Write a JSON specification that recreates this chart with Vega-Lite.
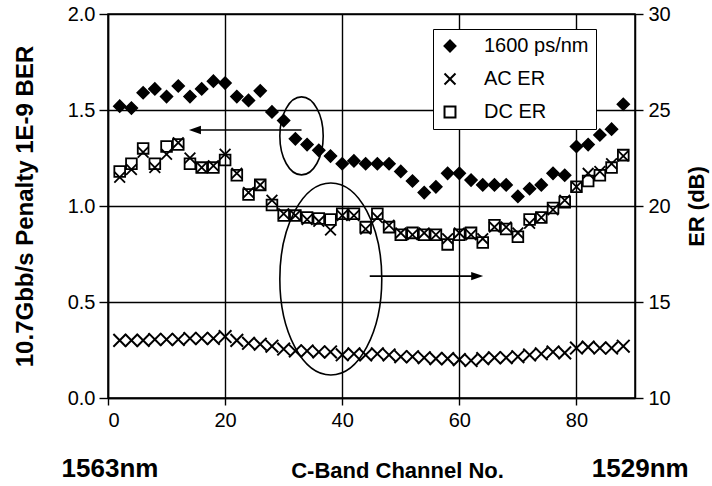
{
  "$schema": "https://vega.github.io/schema/vega-lite/v6.json",
  "width": 527,
  "height": 384,
  "autosize": {"type": "none"},
  "padding": {"left": 108, "top": 14, "right": 77, "bottom": 88},
  "background": "white",
  "datasets": {
    "penalty": [
      {"ch": 2, "series": "1600 ps/nm", "value": 1.52}, {"ch": 4, "series": "1600 ps/nm", "value": 1.51},
      {"ch": 6, "series": "1600 ps/nm", "value": 1.59}, {"ch": 8, "series": "1600 ps/nm", "value": 1.61},
      {"ch": 10, "series": "1600 ps/nm", "value": 1.57}, {"ch": 12, "series": "1600 ps/nm", "value": 1.625},
      {"ch": 14, "series": "1600 ps/nm", "value": 1.57}, {"ch": 16, "series": "1600 ps/nm", "value": 1.61},
      {"ch": 18, "series": "1600 ps/nm", "value": 1.65}, {"ch": 20, "series": "1600 ps/nm", "value": 1.64},
      {"ch": 22, "series": "1600 ps/nm", "value": 1.57}, {"ch": 24, "series": "1600 ps/nm", "value": 1.55},
      {"ch": 26, "series": "1600 ps/nm", "value": 1.60}, {"ch": 28, "series": "1600 ps/nm", "value": 1.49},
      {"ch": 30, "series": "1600 ps/nm", "value": 1.445}, {"ch": 32, "series": "1600 ps/nm", "value": 1.35},
      {"ch": 34, "series": "1600 ps/nm", "value": 1.32}, {"ch": 36, "series": "1600 ps/nm", "value": 1.29},
      {"ch": 38, "series": "1600 ps/nm", "value": 1.26}, {"ch": 40, "series": "1600 ps/nm", "value": 1.22},
      {"ch": 42, "series": "1600 ps/nm", "value": 1.235}, {"ch": 44, "series": "1600 ps/nm", "value": 1.22},
      {"ch": 46, "series": "1600 ps/nm", "value": 1.22}, {"ch": 48, "series": "1600 ps/nm", "value": 1.22},
      {"ch": 50, "series": "1600 ps/nm", "value": 1.18}, {"ch": 52, "series": "1600 ps/nm", "value": 1.13},
      {"ch": 54, "series": "1600 ps/nm", "value": 1.07}, {"ch": 56, "series": "1600 ps/nm", "value": 1.10},
      {"ch": 58, "series": "1600 ps/nm", "value": 1.17}, {"ch": 60, "series": "1600 ps/nm", "value": 1.17},
      {"ch": 62, "series": "1600 ps/nm", "value": 1.135}, {"ch": 64, "series": "1600 ps/nm", "value": 1.11},
      {"ch": 66, "series": "1600 ps/nm", "value": 1.11}, {"ch": 68, "series": "1600 ps/nm", "value": 1.11},
      {"ch": 70, "series": "1600 ps/nm", "value": 1.05}, {"ch": 72, "series": "1600 ps/nm", "value": 1.09},
      {"ch": 74, "series": "1600 ps/nm", "value": 1.11}, {"ch": 76, "series": "1600 ps/nm", "value": 1.17},
      {"ch": 78, "series": "1600 ps/nm", "value": 1.16}, {"ch": 80, "series": "1600 ps/nm", "value": 1.31},
      {"ch": 82, "series": "1600 ps/nm", "value": 1.32}, {"ch": 84, "series": "1600 ps/nm", "value": 1.37},
      {"ch": 86, "series": "1600 ps/nm", "value": 1.40}, {"ch": 88, "series": "1600 ps/nm", "value": 1.53},
      {"ch": 2, "series": "lower", "value": 0.30}, {"ch": 4, "series": "lower", "value": 0.30},
      {"ch": 6, "series": "lower", "value": 0.30}, {"ch": 8, "series": "lower", "value": 0.305},
      {"ch": 10, "series": "lower", "value": 0.305}, {"ch": 12, "series": "lower", "value": 0.305},
      {"ch": 14, "series": "lower", "value": 0.31}, {"ch": 16, "series": "lower", "value": 0.31},
      {"ch": 18, "series": "lower", "value": 0.31}, {"ch": 20, "series": "lower", "value": 0.32},
      {"ch": 22, "series": "lower", "value": 0.30}, {"ch": 24, "series": "lower", "value": 0.285},
      {"ch": 26, "series": "lower", "value": 0.28}, {"ch": 28, "series": "lower", "value": 0.27},
      {"ch": 30, "series": "lower", "value": 0.255}, {"ch": 32, "series": "lower", "value": 0.245},
      {"ch": 34, "series": "lower", "value": 0.245}, {"ch": 36, "series": "lower", "value": 0.24},
      {"ch": 38, "series": "lower", "value": 0.24}, {"ch": 40, "series": "lower", "value": 0.225},
      {"ch": 42, "series": "lower", "value": 0.23}, {"ch": 44, "series": "lower", "value": 0.224},
      {"ch": 46, "series": "lower", "value": 0.23}, {"ch": 48, "series": "lower", "value": 0.224},
      {"ch": 50, "series": "lower", "value": 0.215}, {"ch": 52, "series": "lower", "value": 0.215},
      {"ch": 54, "series": "lower", "value": 0.21}, {"ch": 56, "series": "lower", "value": 0.205},
      {"ch": 58, "series": "lower", "value": 0.205}, {"ch": 60, "series": "lower", "value": 0.20},
      {"ch": 62, "series": "lower", "value": 0.195}, {"ch": 64, "series": "lower", "value": 0.205},
      {"ch": 66, "series": "lower", "value": 0.21}, {"ch": 68, "series": "lower", "value": 0.21},
      {"ch": 70, "series": "lower", "value": 0.215}, {"ch": 72, "series": "lower", "value": 0.224},
      {"ch": 74, "series": "lower", "value": 0.23}, {"ch": 76, "series": "lower", "value": 0.24},
      {"ch": 78, "series": "lower", "value": 0.235}, {"ch": 80, "series": "lower", "value": 0.26},
      {"ch": 82, "series": "lower", "value": 0.265}, {"ch": 84, "series": "lower", "value": 0.26},
      {"ch": 86, "series": "lower", "value": 0.26}, {"ch": 88, "series": "lower", "value": 0.27}
    ],
    "er": [
      {"ch": 2, "series": "AC ER", "value": 21.5}, {"ch": 4, "series": "AC ER", "value": 21.9},
      {"ch": 6, "series": "AC ER", "value": 22.8}, {"ch": 8, "series": "AC ER", "value": 22.0},
      {"ch": 10, "series": "AC ER", "value": 22.7}, {"ch": 12, "series": "AC ER", "value": 23.3},
      {"ch": 14, "series": "AC ER", "value": 22.5}, {"ch": 16, "series": "AC ER", "value": 22.0},
      {"ch": 18, "series": "AC ER", "value": 22.1}, {"ch": 20, "series": "AC ER", "value": 22.7},
      {"ch": 22, "series": "AC ER", "value": 21.7}, {"ch": 24, "series": "AC ER", "value": 20.7},
      {"ch": 26, "series": "AC ER", "value": 21.1}, {"ch": 28, "series": "AC ER", "value": 20.3},
      {"ch": 30, "series": "AC ER", "value": 19.6}, {"ch": 32, "series": "AC ER", "value": 19.5},
      {"ch": 34, "series": "AC ER", "value": 19.3}, {"ch": 36, "series": "AC ER", "value": 19.2},
      {"ch": 38, "series": "AC ER", "value": 18.75}, {"ch": 40, "series": "AC ER", "value": 19.5},
      {"ch": 42, "series": "AC ER", "value": 19.5}, {"ch": 44, "series": "AC ER", "value": 18.8},
      {"ch": 46, "series": "AC ER", "value": 19.4}, {"ch": 48, "series": "AC ER", "value": 19.0},
      {"ch": 50, "series": "AC ER", "value": 18.6}, {"ch": 52, "series": "AC ER", "value": 18.5},
      {"ch": 54, "series": "AC ER", "value": 18.6}, {"ch": 56, "series": "AC ER", "value": 18.5},
      {"ch": 58, "series": "AC ER", "value": 18.3}, {"ch": 60, "series": "AC ER", "value": 18.6},
      {"ch": 62, "series": "AC ER", "value": 18.5}, {"ch": 64, "series": "AC ER", "value": 18.3},
      {"ch": 66, "series": "AC ER", "value": 18.9}, {"ch": 68, "series": "AC ER", "value": 18.9},
      {"ch": 70, "series": "AC ER", "value": 18.6}, {"ch": 72, "series": "AC ER", "value": 19.1},
      {"ch": 74, "series": "AC ER", "value": 19.4}, {"ch": 76, "series": "AC ER", "value": 19.8},
      {"ch": 78, "series": "AC ER", "value": 20.3}, {"ch": 80, "series": "AC ER", "value": 21.0},
      {"ch": 82, "series": "AC ER", "value": 21.7}, {"ch": 84, "series": "AC ER", "value": 21.8},
      {"ch": 86, "series": "AC ER", "value": 22.2}, {"ch": 88, "series": "AC ER", "value": 22.6},
      {"ch": 2, "series": "DC ER", "value": 21.8}, {"ch": 4, "series": "DC ER", "value": 22.2},
      {"ch": 6, "series": "DC ER", "value": 23.0}, {"ch": 8, "series": "DC ER", "value": 22.2},
      {"ch": 10, "series": "DC ER", "value": 23.1}, {"ch": 12, "series": "DC ER", "value": 23.2},
      {"ch": 14, "series": "DC ER", "value": 22.2}, {"ch": 16, "series": "DC ER", "value": 22.0},
      {"ch": 18, "series": "DC ER", "value": 22.0}, {"ch": 20, "series": "DC ER", "value": 22.4},
      {"ch": 22, "series": "DC ER", "value": 21.6}, {"ch": 24, "series": "DC ER", "value": 20.6},
      {"ch": 26, "series": "DC ER", "value": 21.1}, {"ch": 28, "series": "DC ER", "value": 20.05},
      {"ch": 30, "series": "DC ER", "value": 19.5}, {"ch": 32, "series": "DC ER", "value": 19.5},
      {"ch": 34, "series": "DC ER", "value": 19.4}, {"ch": 36, "series": "DC ER", "value": 19.35},
      {"ch": 38, "series": "DC ER", "value": 19.3}, {"ch": 40, "series": "DC ER", "value": 19.6},
      {"ch": 42, "series": "DC ER", "value": 19.6}, {"ch": 44, "series": "DC ER", "value": 18.9},
      {"ch": 46, "series": "DC ER", "value": 19.6}, {"ch": 48, "series": "DC ER", "value": 18.9},
      {"ch": 50, "series": "DC ER", "value": 18.5}, {"ch": 52, "series": "DC ER", "value": 18.6},
      {"ch": 54, "series": "DC ER", "value": 18.5}, {"ch": 56, "series": "DC ER", "value": 18.5},
      {"ch": 58, "series": "DC ER", "value": 18.0}, {"ch": 60, "series": "DC ER", "value": 18.5},
      {"ch": 62, "series": "DC ER", "value": 18.6}, {"ch": 64, "series": "DC ER", "value": 18.1},
      {"ch": 66, "series": "DC ER", "value": 19.0}, {"ch": 68, "series": "DC ER", "value": 18.8},
      {"ch": 70, "series": "DC ER", "value": 18.4}, {"ch": 72, "series": "DC ER", "value": 19.3},
      {"ch": 74, "series": "DC ER", "value": 19.4}, {"ch": 76, "series": "DC ER", "value": 19.9},
      {"ch": 78, "series": "DC ER", "value": 20.2}, {"ch": 80, "series": "DC ER", "value": 21.0},
      {"ch": 82, "series": "DC ER", "value": 21.3}, {"ch": 84, "series": "DC ER", "value": 21.6},
      {"ch": 86, "series": "DC ER", "value": 22.0}, {"ch": 88, "series": "DC ER", "value": 22.65}
    ],
    "notes": [
      {"kind": "ellipse1", "ch": 33.05, "value": 1.365},
      {"kind": "ellipse2", "ch": 38.05, "value": 0.62},
      {"kind": "arrowLeft", "ch": 14.5, "ch2": 33.05, "value": 1.396},
      {"kind": "arrowRight", "ch": 44.7, "ch2": 63.5, "value": 0.635},
      {"kind": "headLeft", "ch": 14.85, "value": 1.396},
      {"kind": "headRight", "ch": 63.05, "value": 0.635}
    ],
    "labels": [
      {"label": "1563nm", "ch": 0.34, "value": -0.411},
      {"label": "1529nm", "ch": 90.9, "value": -0.411}
    ]
  },
  "layer": [
    {
      "layer": [
        {
          "data": {"name": "penalty"},
          "transform": [{"filter": "datum.series === 'lower'"}],
          "mark": {"type": "point", "shape": "M-1,-1L1,1M-1,1L1,-1", "filled": false, "stroke": "black", "strokeWidth": 2, "size": 160, "opacity": 1},
          "encoding": {
            "x": {"field": "ch", "type": "quantitative", "scale": {"domain": [0, 90], "nice": false},
                  "axis": {"values": [0, 20, 40, 60, 80], "grid": true, "gridColor": "black", "gridWidth": 1.4, "tickSize": 7, "tickWidth": 1.4, "labelPadding": 5, "domainWidth": 1.5,
                           "title": "C-Band Channel No.", "titleX": 289, "titleY": 79, "titleBaseline": "alphabetic", "titleFontSize": 22}},
            "y": {"field": "value", "type": "quantitative", "scale": {"domain": [0, 2], "nice": false},
                  "axis": {"values": [0, 0.5, 1, 1.5, 2], "format": ".1f", "grid": true, "gridColor": "black", "gridWidth": 1.4, "tickSize": 9, "tickWidth": 1.4, "labelPadding": 4, "domainWidth": 1.5,
                           "title": "10.7Gbb/s Penalty 1E-9 BER", "titleFontSize": 24, "titleX": -83, "titleBaseline": "middle"}}
          }
        },
        {
          "data": {"name": "penalty"},
          "transform": [{"filter": "datum.series === '1600 ps/nm'"}],
          "mark": {"type": "point", "filled": false, "stroke": "black", "strokeWidth": 1.5, "size": 145, "opacity": 1},
          "encoding": {
            "x": {"field": "ch", "type": "quantitative", "title": "C-Band Channel No."},
            "y": {"field": "value", "type": "quantitative", "title": "10.7Gbb/s Penalty 1E-9 BER"},
            "shape": {"field": "series", "type": "nominal",
                      "scale": {"domain": ["1600 ps/nm", "AC ER", "DC ER"], "range": ["diamond", "M-1,-1L1,1M-1,1L1,-1", "square"]},
                      "legend": {"title": null, "orient": "none", "legendX": 325, "legendY": 15}},
            "fill": {"field": "series", "type": "nominal",
                     "scale": {"domain": ["1600 ps/nm", "AC ER", "DC ER"], "range": ["black", "transparent", "transparent"]},
                     "legend": {"title": null, "orient": "none", "legendX": 325, "legendY": 15}},
            "stroke": {"field": "series", "type": "nominal",
                       "scale": {"domain": ["1600 ps/nm", "AC ER", "DC ER"], "range": ["black", "black", "black"]},
                       "legend": {"title": null, "orient": "none", "legendX": 325, "legendY": 15}}
          }
        },
        {
          "data": {"name": "notes"},
          "transform": [{"filter": "datum.kind === 'ellipse1'"}],
          "mark": {"type": "point", "shape": "M0,-1C0.307,-1 0.556,-0.552 0.556,0C0.556,0.552 0.307,1 0,1C-0.307,1 -0.556,0.552 -0.556,0C-0.556,-0.552 -0.307,-1 0,-1Z", "filled": false, "stroke": "black", "strokeWidth": 1.6, "size": 6084, "opacity": 1},
          "encoding": {
            "x": {"field": "ch", "type": "quantitative", "title": "C-Band Channel No."},
            "y": {"field": "value", "type": "quantitative", "title": "10.7Gbb/s Penalty 1E-9 BER"}
          }
        },
        {
          "data": {"name": "notes"},
          "transform": [{"filter": "datum.kind === 'ellipse2'"}],
          "mark": {"type": "point", "shape": "M0,-1C0.293,-1 0.531,-0.552 0.531,0C0.531,0.552 0.293,1 0,1C-0.293,1 -0.531,0.552 -0.531,0C-0.531,-0.552 -0.293,-1 0,-1Z", "filled": false, "stroke": "black", "strokeWidth": 1.6, "size": 36864, "opacity": 1},
          "encoding": {
            "x": {"field": "ch", "type": "quantitative", "title": "C-Band Channel No."},
            "y": {"field": "value", "type": "quantitative", "title": "10.7Gbb/s Penalty 1E-9 BER"}
          }
        },
        {
          "data": {"name": "notes"},
          "transform": [{"filter": "datum.kind === 'arrowLeft' || datum.kind === 'arrowRight'"}],
          "mark": {"type": "rule", "color": "black", "strokeWidth": 1.6},
          "encoding": {
            "x": {"field": "ch", "type": "quantitative", "title": "C-Band Channel No."},
            "x2": {"field": "ch2"},
            "y": {"field": "value", "type": "quantitative", "title": "10.7Gbb/s Penalty 1E-9 BER"}
          }
        },
        {
          "data": {"name": "notes"},
          "transform": [{"filter": "datum.kind === 'headLeft'"}],
          "mark": {"type": "point", "shape": "M-1,0L1,-0.7L1,0.7Z", "filled": true, "color": "black", "size": 144, "opacity": 1},
          "encoding": {
            "x": {"field": "ch", "type": "quantitative", "title": "C-Band Channel No."},
            "y": {"field": "value", "type": "quantitative", "title": "10.7Gbb/s Penalty 1E-9 BER"}
          }
        },
        {
          "data": {"name": "notes"},
          "transform": [{"filter": "datum.kind === 'headRight'"}],
          "mark": {"type": "point", "shape": "M1,0L-1,-0.7L-1,0.7Z", "filled": true, "color": "black", "size": 144, "opacity": 1},
          "encoding": {
            "x": {"field": "ch", "type": "quantitative", "title": "C-Band Channel No."},
            "y": {"field": "value", "type": "quantitative", "title": "10.7Gbb/s Penalty 1E-9 BER"}
          }
        },
        {
          "data": {"name": "labels"},
          "mark": {"type": "text", "font": "Liberation Sans", "fontSize": 26, "fontWeight": "bold", "color": "black", "align": "center", "baseline": "alphabetic"},
          "encoding": {
            "x": {"field": "ch", "type": "quantitative", "title": "C-Band Channel No."},
            "y": {"field": "value", "type": "quantitative", "title": "10.7Gbb/s Penalty 1E-9 BER"},
            "text": {"field": "label"}
          }
        }
      ]
    },
    {
      "data": {"name": "er"},
      "mark": {"type": "point", "filled": false, "stroke": "black", "strokeWidth": 1.8, "size": 115, "opacity": 1},
      "encoding": {
        "x": {"field": "ch", "type": "quantitative", "title": "C-Band Channel No."},
        "y": {"field": "value", "type": "quantitative", "scale": {"domain": [10, 30], "nice": false},
              "axis": {"orient": "right", "values": [10, 15, 20, 25, 30], "grid": false, "tickSize": 8, "tickWidth": 1.4, "labelPadding": 5, "domainWidth": 1.5,
                       "title": "ER (dB)", "titleFontSize": 22, "titleAngle": 270, "titleX": 61, "titleBaseline": "middle"}},
        "shape": {"field": "series", "type": "nominal",
                  "scale": {"domain": ["1600 ps/nm", "AC ER", "DC ER"], "range": ["diamond", "M-1,-1L1,1M-1,1L1,-1", "square"]},
                  "legend": {"title": null, "orient": "none", "legendX": 325, "legendY": 15}},
        "fill": {"field": "series", "type": "nominal",
                 "scale": {"domain": ["1600 ps/nm", "AC ER", "DC ER"], "range": ["black", "transparent", "transparent"]},
                 "legend": {"title": null, "orient": "none", "legendX": 325, "legendY": 15}},
        "stroke": {"field": "series", "type": "nominal",
                   "scale": {"domain": ["1600 ps/nm", "AC ER", "DC ER"], "range": ["black", "black", "black"]},
                   "legend": {"title": null, "orient": "none", "legendX": 325, "legendY": 15}}
      }
    }
  ],
  "resolve": {"scale": {"y": "independent"}, "axis": {"y": "independent"}},
  "config": {
    "font": "Liberation Sans",
    "view": {"stroke": "black", "strokeWidth": 1.5},
    "axis": {"domainColor": "black", "tickColor": "black", "gridColor": "black", "gridOpacity": 1, "labelColor": "black", "titleColor": "black",
             "labelFont": "Liberation Sans", "titleFont": "Liberation Sans", "labelFontSize": 20, "titleFontWeight": "bold"},
    "legend": {"strokeColor": "black", "fillColor": "white", "padding": 7, "labelFontSize": 20, "labelFont": "Liberation Sans", "labelColor": "black",
               "labelOffset": 24, "rowPadding": 13, "symbolSize": 120, "symbolStrokeWidth": 2, "labelLimit": 300}
  }
}
